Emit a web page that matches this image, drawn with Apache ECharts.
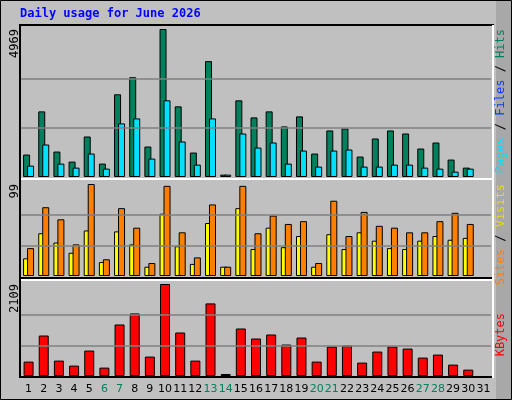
<!DOCTYPE html>
<html><head><meta charset="utf-8">
<script src="https://cdn.jsdelivr.net/npm/echarts@6/dist/echarts.min.js"></script>
<style>html,body{margin:0;padding:0;background:#c0c0c0}#c{width:512px;height:400px}</style>
</head><body><div id="c"></div>
<script>
const days = Array.from({length:31},(_,i)=>String(i+1));
const weekend = ['6','7','13','14','20','21','27','28'];
const hits  = [753,2203,854,517,1360,450,2777,3350,1023,4969,2372,821,3890,79,2574,2001,2203,1698,2035,787,1563,1630,686,1293,1563,1461,956,1158,585,315,null];
const pages = [382,1091,450,315,787,281,1799,1967,618,2574,1192,416,1967,79,1461,989,1158,450,888,349,888,922,349,349,416,416,315,281,180,281,null];
const sites = [19,46,36,25,49,15,48,34,10,67,32,13,57,10,73,29,52,31,43,10,45,29,47,38,30,29,38,43,39,41,null];
const visits= [30,74,61,34,99,18,73,52,14,97,47,20,77,10,97,46,65,56,59,14,81,43,69,54,52,47,47,59,68,56,null];
const kbytes= [330,928,353,238,583,192,1181,1434,445,2109,997,353,1664,46,1089,859,951,721,882,330,675,698,307,560,675,629,422,491,261,146,null];
const maxLabels = ['4969','99','2109'];
const maxVals = [4969,99,2109];

const chart = echarts.init(document.getElementById('c'),null,{renderer:'canvas'});
const L=21,R=21;
const grids=[{left:L,right:R,top:29,height:148},{left:L,right:R,top:184,height:92},{left:L,right:R,top:284,height:92}];
const mono='"DejaVu Sans Mono", monospace';
function xa(i,show){return {type:'category',gridIndex:i,data:days,boundaryGap:true,axisLine:{show:false},axisTick:{show:false},
 axisLabel:{show:show,interval:0,margin:8,fontFamily:'"DejaVu Sans", sans-serif',fontSize:11,
  formatter:v=>weekend.includes(v)?'{w|'+v+'}':'{n|'+v+'}',rich:{n:{color:'#000',fontSize:11},w:{color:'#00805c',fontSize:11}}}};}
function ya(i){return {type:'value',gridIndex:i,min:0,max:maxVals[i],axisLabel:{show:false},axisLine:{show:false},axisTick:{show:false},splitLine:{show:false}};}
function ml(i){const m=maxVals[i];return {silent:true,symbol:'none',label:{show:false},lineStyle:{color:'#808080',type:'solid',width:1.5},data:[{yAxis:m/3},{yAxis:2*m/3}]};}
const bs={borderColor:'#000',borderWidth:1};
chart.setOption({
 animation:false,
 backgroundColor:'#c0c0c0',
 grid:grids,
 xAxis:[xa(0,false),xa(1,false),xa(2,true)],
 yAxis:[ya(0),ya(1),ya(2)],
 graphic:[
  {type:'rect',shape:{x:0.5,y:0.5,width:511,height:399},style:{fill:'none',stroke:'#000',lineWidth:1},z:-10},
  {type:'rect',shape:{x:496,y:1,width:15,height:398},style:{fill:'#a8a8a8'},z:-10},
  {type:'rect',shape:{x:20,y:25,width:473,height:352},style:{fill:'#c0c0c0',stroke:'#000',lineWidth:2},z:-9},
  {type:'line',shape:{x1:21,y1:179,x2:492,y2:179},style:{stroke:'#fff',lineWidth:2},z:-8},
  {type:'line',shape:{x1:21,y1:278,x2:492,y2:278},style:{stroke:'#000',lineWidth:2},z:-8},
  {type:'line',shape:{x1:21,y1:280,x2:492,y2:280},style:{stroke:'#fff',lineWidth:2},z:-8},
  {type:'line',shape:{x1:493,y1:25,x2:493,y2:378},style:{stroke:'#fff',lineWidth:2},z:-8},
  {type:'text',left:20,top:8,style:{text:'Daily usage for June 2026',fill:'#0000ff',font:'bold 12px '+mono}},
  {type:'text',x:9,y:29,rotation:Math.PI/2,style:{text:maxLabels[0],fill:'#000',font:'12px '+mono,align:'right',verticalAlign:'top'}},
  {type:'text',x:9,y:184,rotation:Math.PI/2,style:{text:maxLabels[1],fill:'#000',font:'12px '+mono,align:'right',verticalAlign:'top'}},
  {type:'text',x:9,y:284,rotation:Math.PI/2,style:{text:maxLabels[2],fill:'#000',font:'12px '+mono,align:'right',verticalAlign:'top'}},
  {type:'text',x:495,y:29,rotation:Math.PI/2,style:{text:'{p|Pages} {s|/} {f|Files} {s|/} {h|Hits}',align:'right',verticalAlign:'top',font:'12px '+mono,
    rich:{p:{fill:'#00e0ff',font:'12px '+mono},f:{fill:'#0040ff',font:'12px '+mono},h:{fill:'#00805c',font:'12px '+mono},s:{fill:'#000',font:'12px '+mono}}}},
  {type:'text',x:495,y:184,rotation:Math.PI/2,style:{text:'{a|Sites} {s|/} {b|Visits}',align:'right',verticalAlign:'top',font:'12px '+mono,
    rich:{a:{fill:'#ff8000',font:'12px '+mono},b:{fill:'#e8e000',font:'12px '+mono},s:{fill:'#000',font:'12px '+mono}}}},
  {type:'text',x:495,y:313,rotation:Math.PI/2,style:{text:'KBytes',fill:'#ff0000',align:'right',verticalAlign:'top',font:'12px '+mono}}
 ],
 series:[
  {type:'bar',name:'Hits',xAxisIndex:0,yAxisIndex:0,data:hits,barWidth:7,barGap:'-43%',itemStyle:{color:'#00805c',...bs},markLine:ml(0),z:2},
  {type:'bar',name:'Pages',xAxisIndex:0,yAxisIndex:0,data:pages,barWidth:7,barGap:'-43%',itemStyle:{color:'#00e0ff',...bs},z:3},
  {type:'bar',name:'Visits',xAxisIndex:1,yAxisIndex:1,data:sites,barWidth:7,barGap:'-43%',itemStyle:{color:'#ffff00',...bs},markLine:ml(1),z:2},
  {type:'bar',name:'Sites',xAxisIndex:1,yAxisIndex:1,data:visits,barWidth:7,barGap:'-43%',itemStyle:{color:'#ff8000',...bs},z:3},
  {type:'bar',name:'KBytes',xAxisIndex:2,yAxisIndex:2,data:kbytes,barWidth:10,itemStyle:{color:'#ff0000',...bs},markLine:ml(2)}
 ]
});
</script></body></html>
